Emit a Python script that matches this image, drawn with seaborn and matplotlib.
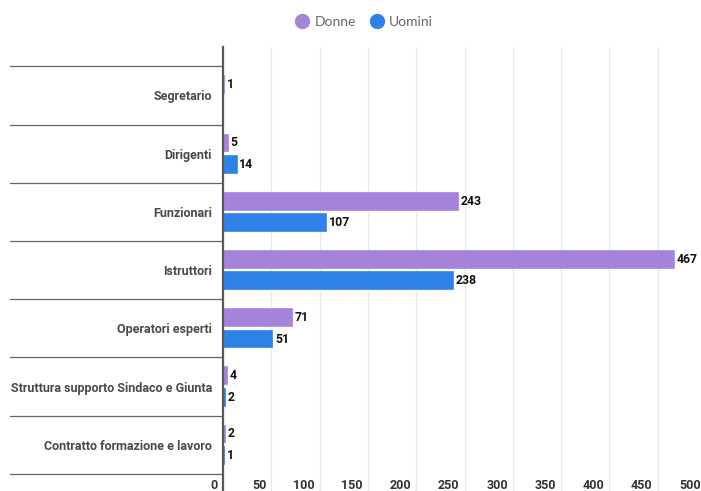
import numpy as np
import pandas as pd
import seaborn as sns
import matplotlib.pyplot as plt
from matplotlib.lines import Line2D
from matplotlib import transforms

categories = [
    "Segretario",
    "Dirigenti",
    "Funzionari",
    "Istruttori",
    "Operatori esperti",
    "Struttura supporto Sindaco e Giunta",
    "Contratto formazione e lavoro",
]
donne = [1, 5, 243, 467, 71, 4, 2]
uomini = [np.nan, 14, 107, 238, 51, 2, 1]
series = ["Donne", "Uomini"]
colors = ["#a683db", "#2e81e6"]
x_ticks = [0, 50, 100, 150, 200, 250, 300, 350, 400, 450, 500]

df = pd.DataFrame({
    "categoria": categories * 2,
    "genere": ["Donne"] * len(categories) + ["Uomini"] * len(categories),
    "valore": donne + uomini,
})

sns.set_theme(style="white")
plt.rcParams["font.family"] = ["Roboto", "DejaVu Sans"]

W, H = 701, 491
fig = plt.figure(figsize=(W / 100, H / 100), dpi=100)
left_px, right_px, top_px, bottom_px = 223, 706, 47, 491
ax = fig.add_axes([left_px / W, 1 - bottom_px / H,
                   (right_px - left_px) / W, (bottom_px - top_px) / H])

sns.barplot(data=df, x="valore", y="categoria", hue="genere",
            order=categories, hue_order=series, palette=colors,
            orient="h", width=0.74, gap=0.22, ax=ax, legend=False,
            saturation=1, errorbar=None)

# thin outline in the bar colour so that very small values stay visible
for cont, c in zip(ax.containers, colors):
    for bar in cont:
        bar.set_edgecolor(c)
        bar.set_linewidth(1.2)

ax.set_xlim(0, 500)
ax.set_ylim(6.795, -0.833)
ax.set_xlabel("")
ax.set_ylabel("")

# vertical grid
ax.set_xticks(x_ticks)
ax.set_xticklabels([])
ax.grid(axis="x", color="#e6ebf3", linewidth=1)
ax.set_axisbelow(True)
for s in ["top", "right", "bottom"]:
    ax.spines[s].set_visible(False)
ax.spines["left"].set_color("#555a60")
ax.spines["left"].set_linewidth(1.6)
ax.spines["left"].set_zorder(5)
ax.tick_params(axis="x", length=0)
ax.tick_params(axis="y", length=0, pad=8)
for lbl in ax.get_yticklabels():
    lbl.set_fontsize(9)
    lbl.set_fontweight("bold")
    lbl.set_color("#4a4a4a")

# category separators extending left of the axis
sep_tr = transforms.blended_transform_factory(ax.transAxes, ax.transData)
for k in range(len(categories) + 1):
    y = k - 0.5
    ax.add_line(Line2D([-0.441, 0], [y, y], transform=sep_tr, color="#666666",
                       linewidth=0.9, clip_on=False))

# x tick labels inside the plot area, right-aligned to the gridline
tick_tr = transforms.offset_copy(
    transforms.blended_transform_factory(ax.transData, ax.transAxes),
    fig=fig, x=-5, y=0, units="dots")
for v in x_ticks:
    ax.text(v, 0.0135, str(v), transform=tick_tr, ha="right", va="center",
            fontsize=9, fontweight="bold", color="#333333", clip_on=False)

# value labels
for cont in ax.containers:
    ax.bar_label(cont, fmt="%d", padding=2, fontsize=8.8, fontweight="bold",
                 color="#111111")

# legend
handles = [Line2D([], [], marker="o", linestyle="", markersize=10,
                  markerfacecolor=c, markeredgecolor=c) for c in colors]
fig.legend(handles, series, loc="center", bbox_to_anchor=(364 / W, 1 - 21.5 / H),
           ncol=2, frameon=False, fontsize=10, labelcolor="#666666",
           handletextpad=0.4, columnspacing=1.0, handlelength=1.0,
           prop={"family": ["Lato", "DejaVu Sans"], "size": 10})

fig.savefig("out.png", dpi=100)
